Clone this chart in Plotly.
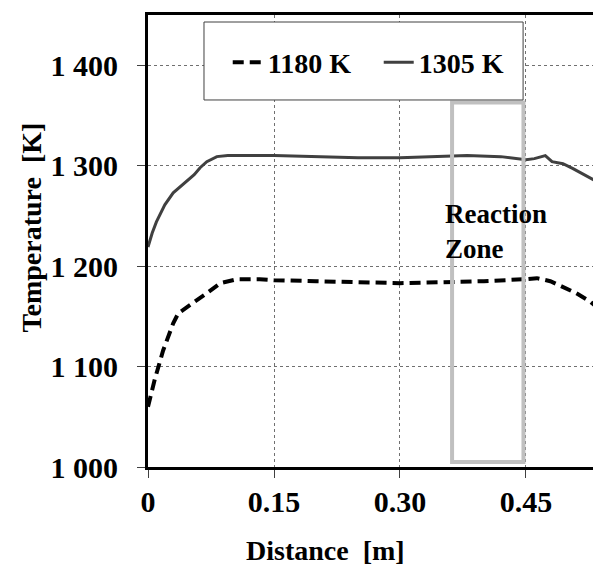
import plotly.graph_objects as go

# Data (distance in m, temperature in K)
x_1180 = [0.000, 0.008, 0.018, 0.030, 0.036, 0.050, 0.070, 0.086, 0.106, 0.133, 0.150, 0.200,
          0.250, 0.300, 0.350, 0.400, 0.450, 0.463, 0.479, 0.494, 0.510, 0.526, 0.539]
t_1180 = [1060, 1087, 1116, 1143, 1153, 1161, 1173, 1183, 1187, 1187, 1186, 1185,
          1184, 1183, 1184, 1185, 1187, 1188, 1185, 1179, 1173, 1165, 1156]

x_1305 = [0.000, 0.005, 0.010, 0.020, 0.030, 0.040, 0.046, 0.055, 0.062, 0.070, 0.082, 0.095,
          0.150, 0.200, 0.250, 0.300, 0.350, 0.380, 0.420, 0.450, 0.460, 0.473, 0.481,
          0.494, 0.506, 0.522, 0.539]
t_1305 = [1219, 1233, 1244, 1261, 1273, 1280, 1284, 1291, 1298, 1304, 1309, 1310,
          1310, 1309, 1308, 1308, 1309, 1310, 1309, 1306, 1307, 1310, 1304,
          1302, 1297, 1290, 1282]

x_ticks = [0, 0.15, 0.30, 0.45]
x_tick_labels = ["0", "0.15", "0.30", "0.45"]
y_ticks = [1000, 1100, 1200, 1300, 1400]
y_tick_labels = ["1 000", "1 100", "1 200", "1 300", "1 400"]

zone_x = [0.362, 0.447]
zone_y = [1005, 1363]

FONT = "Liberation Serif"

fig = go.Figure()
fig.add_trace(go.Scatter(x=x_1180, y=t_1180, mode="lines", name="1180 K",
                         line=dict(color="black", width=4, dash="11px,6px")))
fig.add_trace(go.Scatter(x=x_1305, y=t_1305, mode="lines", name="1305 K",
                         line=dict(color="#404040", width=3)))

# Reaction zone rectangle
fig.add_shape(type="rect", xref="x", yref="y", x0=zone_x[0], x1=zone_x[1],
              y0=zone_y[0], y1=zone_y[1], line=dict(color="#c0c0c0", width=4),
              layer="above")
fig.add_annotation(x=0.351, y=1234, xref="x", yref="y", text="<b>Reaction<br>Zone</b>",
                   showarrow=False, xanchor="left", yanchor="middle", align="left",
                   font=dict(family=FONT, size=27, color="black"))

# Legend box
fig.add_shape(type="rect", xref="paper", yref="paper", x0=0.1236, x1=0.828,
              y0=0.812, y1=0.9845, line=dict(color="#404040", width=1),
              fillcolor="white", layer="above")

# Axis titles
fig.add_annotation(x=-0.258, y=0.53, xref="paper", yref="paper",
                   text="<b>Temperature  [K]</b>", textangle=-90, showarrow=False,
                   xanchor="center", yanchor="middle",
                   font=dict(family=FONT, size=28, color="black"))
fig.add_annotation(x=0.391, y=-0.184, xref="paper", yref="paper",
                   text="<b>Distance  [m]</b>", showarrow=False,
                   xanchor="center", yanchor="middle",
                   font=dict(family=FONT, size=28, color="black"))

fig.update_layout(
    width=593, height=561,
    margin=dict(l=140, r=0, t=7, b=102, autoexpand=False),
    paper_bgcolor="white", plot_bgcolor="white",
    showlegend=True,
    legend=dict(orientation="h", x=0.176, y=0.895, xanchor="left", yanchor="middle",
                bgcolor="rgba(0,0,0,0)", borderwidth=0,
                font=dict(family=FONT, size=28, color="black", weight="bold"),
                itemwidth=30, tracegroupgap=0, entrywidth=106, entrywidthmode="pixels"),
    font=dict(family=FONT, color="black"),
)

fig.update_xaxes(range=[0, 0.5393], tickmode="array", tickvals=x_ticks, ticktext=x_tick_labels,
                 tickfont=dict(family=FONT, size=30, color="black", weight="bold"),
                 showline=True, linecolor="black", linewidth=3, mirror=True,
                 ticks="outside", ticklen=8, tickcolor="#404040", tickwidth=1,
                 showgrid=True, gridcolor="#707070", gridwidth=1, griddash="dot",
                 zeroline=False, ticklabelstandoff=-2)
fig.update_yaxes(range=[1000, 1450], tickmode="array", tickvals=y_ticks, ticktext=y_tick_labels,
                 tickfont=dict(family=FONT, size=30, color="black", weight="bold"),
                 showline=True, linecolor="black", linewidth=3,
                 ticks="outside", ticklen=8, tickcolor="#404040", tickwidth=1,
                 showgrid=True, gridcolor="#707070", gridwidth=1, griddash="dot",
                 zeroline=False, ticklabelstandoff=13)

fig.write_html("out.html")
